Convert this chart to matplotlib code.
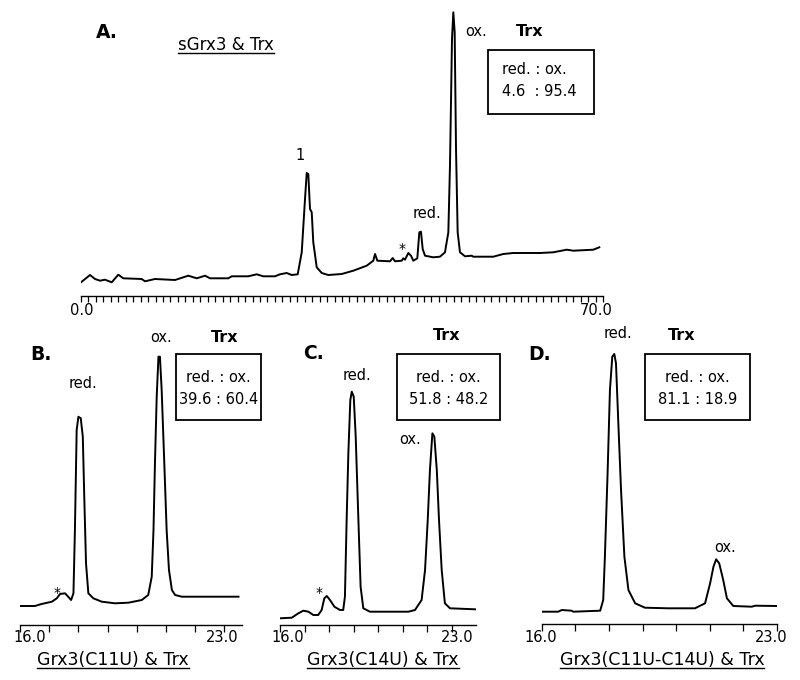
import matplotlib
matplotlib.use("Agg")
import matplotlib.pyplot as plt
from matplotlib.lines import Line2D
from matplotlib.patches import Rectangle

# HPLC traces: retention time (min) vs. signal (arbitrary units)
a_time = [0.0, 1.21, 1.88, 2.55, 3.22, 4.12, 5.0, 5.67, 8.14, 8.58, 9.92, 12.6, 14.39, 15.52,
          16.63, 17.3, 19.75, 20.21, 22.44, 23.56, 24.45, 26.02, 26.69, 27.58, 28.25, 29.06,
          29.6, 30.04, 30.27, 30.48, 30.71, 30.94, 31.15, 31.61, 32.28, 33.16, 34.96, 36.51,
          38.31, 39.2, 39.43, 39.74, 41.44, 41.8, 42.11, 43.01, 43.22, 43.45, 43.89, 44.25,
          44.56, 45.1, 45.37, 45.59, 45.82, 46.13, 47.24, 48.14, 48.81, 49.26, 49.48, 49.75,
          49.93, 50.11, 50.29, 50.51, 50.82, 51.5, 52.39, 52.6, 55.29, 56.63, 57.97, 61.55,
          63.34, 65.13, 66.02, 68.7, 69.5]
a_signal = [13.7, 21, 17, 15.3, 16.3, 13.7, 21.3, 17.7, 17, 14.7, 17, 16, 20.3, 17.7,
            20.3, 17.7, 17.7, 19.7, 19.7, 21.7, 19.7, 19.7, 21.7, 23, 21, 21.7,
            43.7, 97, 123, 122, 87, 83.7, 53.7, 28.7, 23, 21, 22, 25.3,
            30.3, 35.3, 42, 35.3, 34.7, 38, 34.7, 35.3, 37.7, 36.3, 43, 40.3,
            35.3, 37.7, 63.7, 64.3, 47, 40.3, 38.7, 39.3, 43.7, 63.7, 130.3, 257,
            283.7, 263.7, 147, 63.7, 43.7, 39.7, 40.3, 39.3, 39.3, 42, 43, 43,
            43.7, 46.3, 45.3, 46.3, 48.7]

b_time = [16.0, 16.51, 16.74, 17.09, 17.26, 17.37, 17.54, 17.65, 17.75, 17.83, 17.88, 17.94,
          18.0, 18.08, 18.15, 18.2, 18.26, 18.34, 18.51, 18.8, 19.25, 19.71, 20.17, 20.39,
          20.51, 20.57, 20.62, 20.68, 20.74, 20.79, 20.85, 20.94, 21.02, 21.1, 21.2, 21.31,
          21.54, 23.48]
b_signal = [19, 19, 21, 23.3, 26.7, 31, 31.7, 28.3, 25, 31.7, 95, 195,
            208.3, 206.7, 188.3, 128.3, 61.7, 31.7, 26.7, 23.3, 21.7, 22.3, 25, 30,
            48.3, 95, 161.7, 228.3, 268.3, 268.3, 235, 161.7, 95, 55, 35, 30,
            28.3, 28.3]

c_time = [16.0, 16.48, 16.75, 16.95, 17.16, 17.36, 17.56, 17.7, 17.81, 17.91, 18.04, 18.22,
          18.45, 18.58, 18.65, 18.72, 18.79, 18.87, 18.93, 19.01, 19.09, 19.2, 19.29, 19.4,
          19.67, 21.24, 21.51, 21.78, 21.92, 22.03, 22.12, 22.22, 22.3, 22.4, 22.49, 22.6,
          22.73, 22.94, 23.96]
c_signal = [6.7, 7.3, 11.7, 14.3, 13.3, 10, 10, 15, 26.7, 29, 25, 18.3,
            15, 15, 28.3, 105, 171.7, 225, 233.3, 228.3, 188.3, 105, 38.3, 16.7,
            13.3, 13.3, 15, 25, 55, 105, 155, 191.7, 188.3, 155, 105, 55,
            21.7, 16.7, 15.7]

d_time = [16.0, 16.49, 16.6, 16.89, 16.94, 17.74, 17.83, 17.88, 17.96, 18.03, 18.1, 18.16,
          18.21, 18.28, 18.36, 18.46, 18.58, 18.78, 19.07, 19.77, 20.56, 20.86, 21.01, 21.11,
          21.19, 21.28, 21.4, 21.51, 21.7, 22.25, 22.35, 23.0]
d_signal = [12.3, 12.3, 14, 13.3, 12.3, 13.3, 24, 67.3, 150.7, 234, 267.3, 270,
            260.7, 200.7, 134, 67.3, 34, 20.7, 16.3, 15.7, 15.7, 20.7, 40.7, 57.3,
            64.7, 60.7, 44, 25.7, 18, 17.3, 18.3, 18]

# red : ox ratios of Trx
ratio_red = ["4.6", "39.6", "51.8", "81.1"]
ratio_ox = ["95.4", "60.4", "48.2", "18.9"]
titles = ["sGrx3 & Trx", "Grx3(C11U) & Trx", "Grx3(C14U) & Trx", "Grx3(C11U-C14U) & Trx"]

W, H = 800, 680
fig = plt.figure(figsize=(W / 100, H / 100), dpi=100)


def axes_px(left, right, top, bottom):
    return fig.add_axes([left / W, 1 - bottom / H, (right - left) / W, (bottom - top) / H])


def label(x, y, s, size=10, weight="normal", ha="center"):
    return fig.text(x / W, 1 - y / H, s, ha=ha, va="center", fontsize=size, fontweight=weight)


def style(ax, xmin, xmax, height, ticks, tick_len):
    ax.set_xlim(xmin, xmax)
    ax.set_ylim(0, height)
    for s in ["left", "right", "top"]:
        ax.spines[s].set_visible(False)
    ax.spines["bottom"].set_linewidth(1.0)
    ax.set_yticks([])
    ax.set_xticks(ticks)
    ax.set_xticklabels([])
    ax.tick_params(axis="x", direction="out", length=tick_len, width=0.9)
    ax.patch.set_alpha(0)


def box(left, right, top, bottom):
    fig.add_artist(Rectangle((left / W, 1 - bottom / H), (right - left) / W, (bottom - top) / H,
                             transform=fig.transFigure, fill=False, lw=1.3, ec="black"))


# ---- Panel A ----
ax_a = axes_px(81, 603, 5, 296)
style(ax_a, 0, 70, 291, list(range(0, 71)), 4)
ax_a.plot(a_time, a_signal, color="black", lw=1.4)
label(82, 311, "0.0", 10.5)
label(596, 311, "70.0", 10.5)

# ---- Panels B, C, D ----
ax_b = axes_px(20, 242, 330, 625)
style(ax_b, 16, 23.6, 295, list(range(16, 24)), 5)
ax_b.plot(b_time, b_signal, color="black", lw=1.4)

ax_c = axes_px(280, 476, 330, 625)
style(ax_c, 16, 24.0, 295, list(range(16, 24)), 5)
ax_c.plot(c_time, c_signal, color="black", lw=1.4)

ax_d = axes_px(541.7, 777, 330, 624)
style(ax_d, 16, 23.0, 294, list(range(16, 24)), 5)
ax_d.plot(d_time, d_signal, color="black", lw=1.4)

for x16, x23 in [(30, 222), (288, 457), (541, 771)]:
    label(x16, 637, "16.0", 10.5)
    label(x23, 637, "23.0", 10.5)

# ---- panel letters and peak labels ----
label(107, 33, "A.", 13.5, "bold")
label(41, 355, "B.", 13.5, "bold")
label(313, 353, "C.", 13.5, "bold")
label(540, 355, "D.", 13.5, "bold")

label(300, 156, "1", 10.5)
label(402, 249, "*", 10)
label(427, 213, "red.", 10.5)
label(476, 31, "ox.", 10.5)
label(530, 31, "Trx", 11.5, "bold")

label(83, 384, "red.", 10.5)
label(161, 337, "ox.", 10.5)
label(225, 337, "Trx", 11.5, "bold")
label(57, 593, "*", 10)

label(357, 375, "red.", 10.5)
label(410, 440, "ox.", 10.5)
label(447, 336, "Trx", 11.5, "bold")
label(319, 593, "*", 10)

label(618, 334, "red.", 10.5)
label(725, 547, "ox.", 10.5)
label(682, 336, "Trx", 11.5, "bold")

# ---- ratio boxes ----
box(488, 594, 50, 114)
label(502, 70, "red. : ox.", 10.5, ha="left")
label(502, 92, f"{ratio_red[0]}  : {ratio_ox[0]}", 10.5, ha="left")

for (l, r), red, ox in zip([(176, 261), (397, 500), (645, 750)], ratio_red[1:], ratio_ox[1:]):
    box(l, r, 354, 420)
    cx = (l + r) / 2
    label(cx, 377, "red. : ox.", 10.5)
    label(cx, 399, f"{red} : {ox}", 10.5)

# ---- underlined sample names ----
underlined = [
    label(226, 45, titles[0], 12),
    label(113, 660, titles[1], 12.5),
    label(383, 660, titles[2], 12.5),
    label(662, 660, titles[3], 12.5),
]

fig.canvas.draw()
for t in underlined:
    bb = t.get_window_extent()
    y = (bb.y0 + 1) / fig.bbox.height
    fig.add_artist(Line2D([bb.x0 / fig.bbox.width, bb.x1 / fig.bbox.width], [y, y],
                          transform=fig.transFigure, color="black", lw=1.0))

fig.savefig("out.png", dpi=100)
